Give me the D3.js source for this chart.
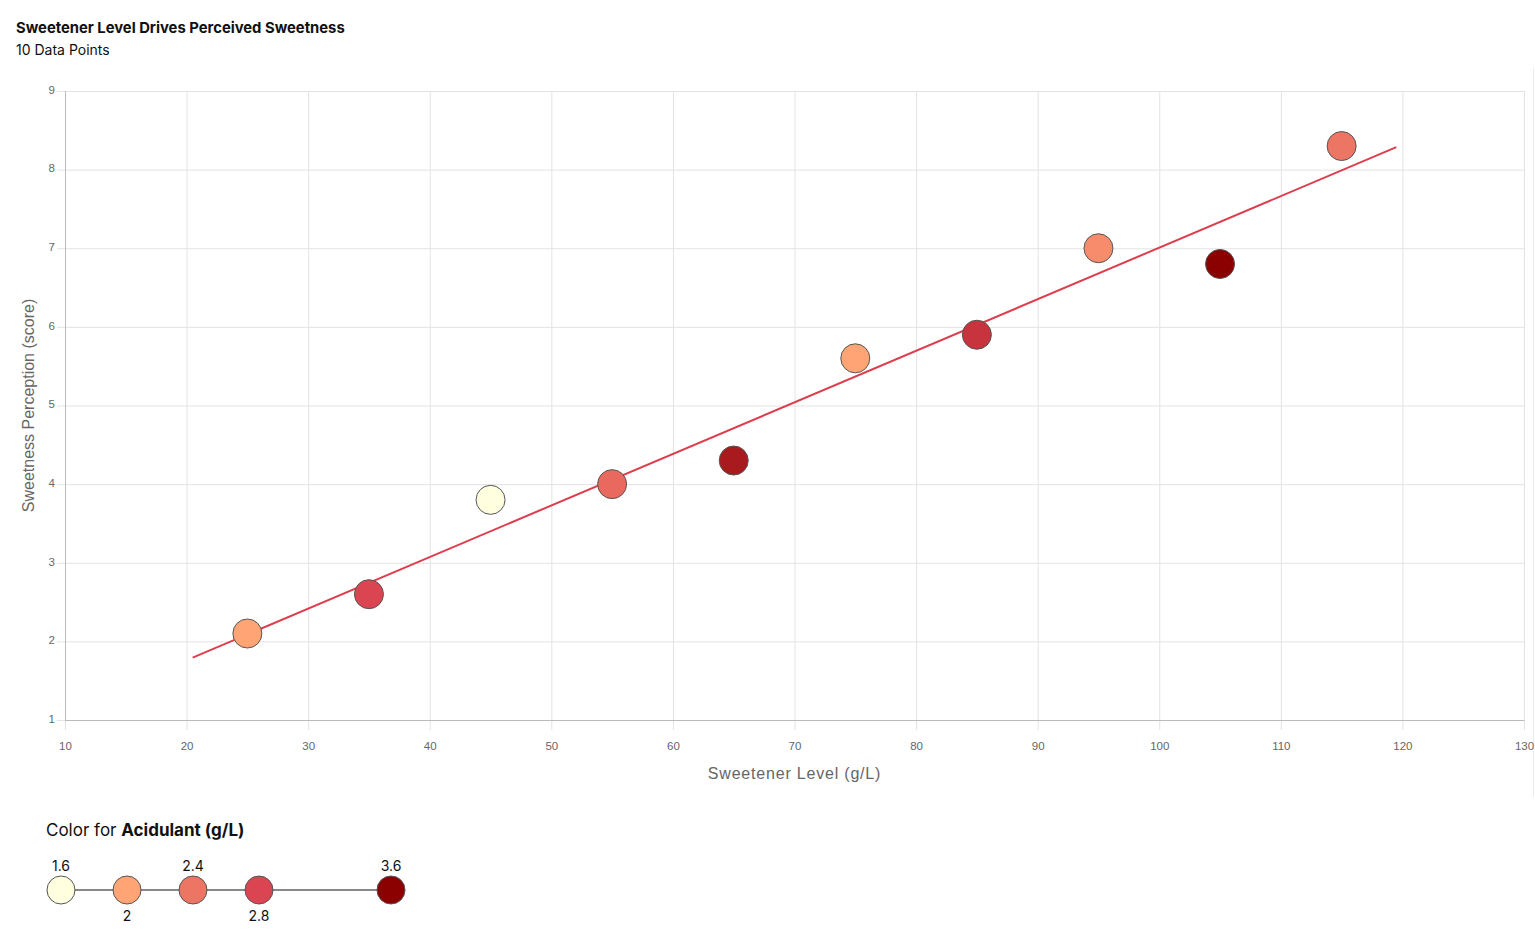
<!DOCTYPE html>
<html><head><meta charset="utf-8">
<script src="https://cdn.jsdelivr.net/npm/d3@7"></script>
<style>
body{margin:0;background:#fff;font-family:Inter,"Noto Sans",sans-serif;}
svg{display:block}
</style></head>
<body>
<svg id="c" width="1535" height="936"></svg>
<script>
const sweetener = [25,35,45,55,65,75,85,95,105,115];
const sweetness = [2.1,2.6,3.8,4.0,4.3,5.6,5.9,7.0,6.8,8.3];
const acidulant = [2.0,2.8,1.6,2.5,3.3,2.0,3.0,2.2,3.6,2.4];
const xTicks = [10,20,30,40,50,60,70,80,90,100,110,120,130];
const yTicks = [1,2,3,4,5,6,7,8,9];
const legendValues = [1.6,2,2.4,2.8,3.6];
const colorStops = [1.6,2.0,2.8,3.6];
const colorRange = ["#ffffe0","#ffa474","#db4551","#8b0000"];
const trendExtent = [20.5,119.5];

const svg = d3.select("#c");
const m = {l:65, r:1524, t:91, b:720};
const x = d3.scaleLinear().domain([10,130]).range([m.l,m.r]);
const y = d3.scaleLinear().domain([1,9]).range([m.b,m.t]);
const color = d3.scaleLinear().domain(colorStops).range(colorRange).interpolate(d3.interpolateRgb);

// title
svg.append("text").attr("x",16).attr("y",33).attr("font-size",14.8).attr("font-weight",700)
  .attr("fill","#111").attr("font-family","Inter, sans-serif").text("Sweetener Level Drives Perceived Sweetness");
svg.append("text").attr("x",16).attr("y",55).attr("font-size",14)
  .attr("fill","#111").attr("font-family","Inter, sans-serif").text("10 Data Points");

// right border (container)
svg.append("line").attr("x1",1533.5).attr("x2",1533.5).attr("y1",68).attr("y2",797).attr("stroke","#ececec");

// grid
const g = svg.append("g");
g.selectAll(".gx").data(xTicks).join("line")
  .attr("x1",d=>x(d)+0.5).attr("x2",d=>x(d)+0.5).attr("y1",m.t).attr("y2",m.b+10)
  .attr("stroke","#e3e3e3");
g.selectAll(".gy").data(yTicks).join("line")
  .attr("x1",m.l-8).attr("x2",m.r).attr("y1",d=>y(d)+0.5).attr("y2",d=>y(d)+0.5)
  .attr("stroke","#e3e3e3");

// axes
const xa = svg.append("g").attr("transform",`translate(0,${m.b})`)
  .call(d3.axisBottom(x).tickValues(xTicks).tickSize(0).tickPadding(22));
const ya = svg.append("g").attr("transform",`translate(${m.l},0)`)
  .call(d3.axisLeft(y).tickValues(yTicks).tickSize(0).tickPadding(10));
[xa,ya].forEach(a=>{
  a.select(".domain").attr("stroke","#bbb");
  a.selectAll("text").attr("fill","#666").attr("font-size",11.5).attr("font-family","'Liberation Sans', Arial, sans-serif");
});
ya.selectAll("text").attr("dy","0.2em");
svg.append("line").attr("x1",m.l+0.5).attr("x2",m.l+0.5).attr("y1",m.t).attr("y2",m.b).attr("stroke","#bbb");
svg.append("line").attr("x1",m.l).attr("x2",m.r).attr("y1",m.b+0.5).attr("y2",m.b+0.5).attr("stroke","#bbb");

svg.append("text").attr("x",(m.l+m.r)/2).attr("y",779).attr("text-anchor","middle")
  .attr("font-size",16).attr("letter-spacing","0.8px").attr("fill","#666").attr("font-family","'Liberation Sans', Arial, sans-serif")
  .text("Sweetener Level (g/L)");
svg.append("text").attr("transform",`translate(34,${(m.t+m.b)/2}) rotate(-90)`).attr("text-anchor","middle")
  .attr("font-size",16).attr("fill","#666").attr("font-family","'Liberation Sans', Arial, sans-serif")
  .text("Sweetness Perception (score)");

// regression
const mx = d3.mean(sweetener), my = d3.mean(sweetness);
const sxy = d3.sum(sweetener.map((v,i)=>(v-mx)*(sweetness[i]-my)));
const sxx = d3.sum(sweetener.map(v=>(v-mx)*(v-mx)));
const slope = sxy/sxx, icpt = my - slope*mx;
svg.append("path").datum(trendExtent.map(v=>[v, icpt+slope*v]))
  .attr("d", d3.line().x(d=>x(d[0])).y(d=>y(d[1])))
  .attr("stroke","#dd3e4e").attr("stroke-width",2).attr("fill","none");

// points
const pts = sweetener.map((v,i)=>({x:v,y:sweetness[i],c:acidulant[i]}));
svg.selectAll(".pt").data(pts).join("circle")
  .attr("cx",d=>x(d.x)).attr("cy",d=>y(d.y)).attr("r",14.5)
  .attr("fill",d=>color(d.c)).attr("stroke","#555").attr("stroke-width",1);

// legend
const lt = svg.append("text").attr("x",46).attr("y",836).attr("font-size",17).attr("fill","#111")
  .attr("font-family","Inter, sans-serif");
lt.append("tspan").text("Color for ");
lt.append("tspan").attr("font-weight",700).text("Acidulant (g/L)");
const lx = d3.scaleLinear().domain([1.6,3.6]).range([61,391]);
svg.append("line").attr("x1",lx(1.6)).attr("x2",lx(3.6)).attr("y1",890).attr("y2",890)
  .attr("stroke","#888").attr("stroke-width",2);
svg.selectAll(".lc").data(legendValues).join("circle")
  .attr("cx",d=>lx(d)).attr("cy",890).attr("r",14)
  .attr("fill",d=>color(d)).attr("stroke","#555").attr("stroke-width",1);
svg.selectAll(".ll").data(legendValues).join("text")
  .attr("x",d=>lx(d)).attr("y",(d,i)=> i%2===0 ? 871 : 921).attr("text-anchor","middle")
  .attr("font-size",14).attr("fill","#111").attr("font-family","Inter, sans-serif")
  .text(d=>d);
</script>
</body></html>
